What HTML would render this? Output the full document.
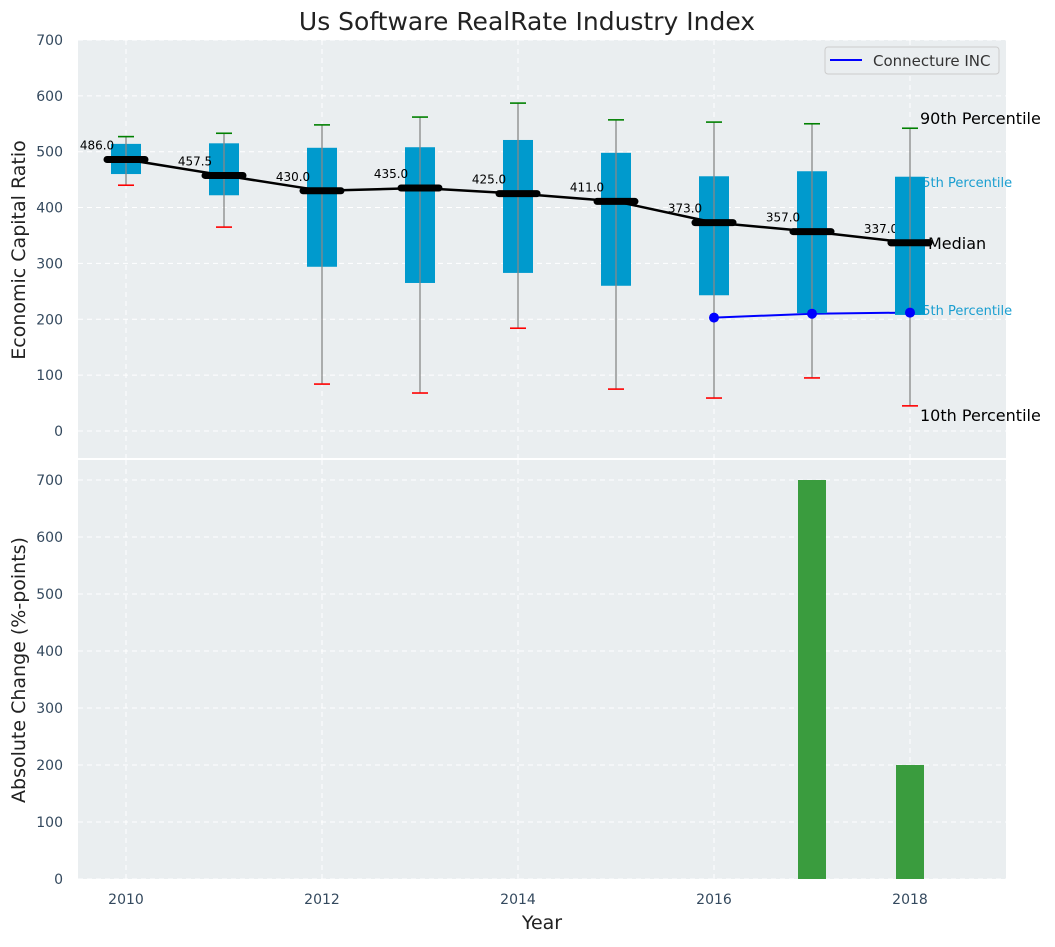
<!DOCTYPE html>
<html><head><meta charset="utf-8">
<style>
body{margin:0;background:#fff;}
svg text{font-family:"DejaVu Sans","Liberation Sans",sans-serif;}
</style></head>
<body>
<svg id="chart" width="1055" height="942" xmlns="http://www.w3.org/2000/svg">
<text x="527" y="30" font-size="25" text-anchor="middle" fill="#222">Us Software RealRate Industry Index</text>
<rect x="78" y="40" width="928" height="418" fill="#eaeef0"/>
<rect x="78" y="460" width="928" height="419" fill="#eaeef0"/>
<g id="gtop"></g><g id="gbot"></g>
<text x="25" y="250" font-size="19" fill="#222" text-anchor="middle" transform="rotate(-90 25 250)">Economic Capital Ratio</text>
<text x="25" y="670" font-size="19" fill="#222" text-anchor="middle" transform="rotate(-90 25 670)">Absolute Change (%-points)</text>
<text x="542" y="929" font-size="19" fill="#222" text-anchor="middle">Year</text>
<g>
<rect x="825" y="47" width="174" height="27" rx="3" fill="#eaeef0" stroke="#ccc"/>
<line x1="830" y1="60" x2="862" y2="60" stroke="blue" stroke-width="2"/>
<text x="873" y="66" font-size="15" fill="#333">Connecture INC</text>
</g>
</svg>
<script>
const years=[2010,2011,2012,2013,2014,2015,2016,2017,2018];
const p90=[527,533,548,562,587,557,553,550,542];
const p75=[514,515,507,508,521,498,456,465,455];
const medians=[486,457.5,430,435,425,411,373,357,337];
const p25=[460,422,294,265,283,260,243,211,208];
const p10=[440,365,84,68,184,75,59,95,45];
const compYears=[2016,2017,2018];
const compVals=[203,210,212];
const barYears=[2017,2018];
const barVals=[700,200];
const topTicks=[0,100,200,300,400,500,600,700];
const botTicks=[0,100,200,300,400,500,600,700];
const xTicks=[2010,2012,2014,2016,2018];

const NS="http://www.w3.org/2000/svg";
const X=v=>126+(v-2010)*98;
const YT=v=>431-v*0.5586;
const YB=v=>879-v*0.57;
function mk(par,tag,at){const e=document.createElementNS(NS,tag);for(const k in at)e.setAttribute(k,at[k]);par.appendChild(e);return e;}
const gTop=document.getElementById('gtop'),gBot=document.getElementById('gbot');
topTicks.forEach(t=>{const l=mk(gTop,'line',{x1:78,x2:1006,y1:YT(t),y2:YT(t),stroke:'#fff','stroke-dasharray':'5,4'});

const tx=mk(gTop,'text',{x:63,y:YT(t)+5,'font-size':14,fill:'#34495e','text-anchor':'end'});tx.textContent=t;
});
botTicks.forEach(t=>{const l=mk(gBot,'line',{x1:78,x2:1006,y1:YB(t),y2:YB(t),stroke:'#fff','stroke-dasharray':'5,4'});

const tx=mk(gBot,'text',{x:63,y:YB(t)+5,'font-size':14,fill:'#34495e','text-anchor':'end'});tx.textContent=t;
});
xTicks.forEach(t=>{[[40,458],[460,879]].forEach(r=>{const l=mk(gTop,'line',{x1:X(t),x2:X(t),y1:r[0],y2:r[1],stroke:'#fff','stroke-dasharray':'5,4'});
});
const tx=mk(gBot,'text',{x:X(t),y:904,'font-size':14,fill:'#34495e','text-anchor':'middle'});tx.textContent=t;
});
const cl=mk(gTop,'polyline',{points:compYears.map((y,i)=>X(y)+','+YT(compVals[i])).join(' '),fill:'none',stroke:'blue','stroke-width':2});

years.forEach((y,i)=>{const x=X(y);
const b=mk(gTop,'rect',{x:x-15,y:YT(p75[i]),width:30,height:YT(p25[i])-YT(p75[i]),fill:'#009acd'});

const w=mk(gTop,'line',{x1:x,x2:x,y1:YT(p10[i]),y2:YT(p90[i]),stroke:'#888','stroke-width':1.3});

const c1=mk(gTop,'line',{x1:x-8,x2:x+8,y1:YT(p90[i]),y2:YT(p90[i]),stroke:'green','stroke-width':1.6});

const c2=mk(gTop,'line',{x1:x-8,x2:x+8,y1:YT(p10[i]),y2:YT(p10[i]),stroke:'red','stroke-width':1.6});
});
const ml=mk(gTop,'polyline',{points:years.map((y,i)=>X(y)+','+YT(medians[i])).join(' '),fill:'none',stroke:'#000','stroke-width':2.5});

years.forEach((y,i)=>{const x=X(y);
const m=mk(gTop,'line',{x1:x-19,x2:x+19,y1:YT(medians[i]),y2:YT(medians[i]),stroke:'#000','stroke-width':7,'stroke-linecap':'round'});

const t=mk(gTop,'text',{x:x-29,y:YT(medians[i])-10,'font-size':12,fill:'#000','text-anchor':'middle'});t.textContent=medians[i].toFixed(1);
});
compYears.forEach((y,i)=>{const d=mk(gTop,'circle',{cx:X(y),cy:YT(compVals[i]),r:5,fill:'blue'});
});
const li=years.length-1,lx=X(years[li]);
[['90th Percentile',lx+10,YT(p90[li])-4,16,'#000'],['75th Percentile',lx+4,YT(p75[li])+10,13,'#1a9ed0'],['Median',lx+18,YT(medians[li])+6,16,'#000'],['25th Percentile',lx+4,YT(p25[li])+0,13,'#1a9ed0'],['10th Percentile',lx+10,YT(p10[li])+15,16,'#000']].forEach(a=>{
const t=mk(gTop,'text',{x:a[1],y:a[2],'font-size':a[3],fill:a[4]});t.textContent=a[0];
});
const lb=mk(gTop,'rect',{x:lx-15,y:YT(p75[li]),width:30,height:YT(p25[li])-YT(p75[li]),fill:'#009acd'});

const lw=mk(gTop,'line',{x1:lx,x2:lx,y1:YT(p75[li]),y2:YT(p25[li]),stroke:'#888','stroke-width':1.3});

const lm=mk(gTop,'line',{x1:lx-19,x2:lx+19,y1:YT(medians[li]),y2:YT(medians[li]),stroke:'#000','stroke-width':7,'stroke-linecap':'round'});

const ld=mk(gTop,'circle',{cx:lx,cy:YT(compVals[compVals.length-1]),r:5,fill:'blue'});

barYears.forEach((y,i)=>{const b=mk(gBot,'rect',{x:X(y)-14,y:YB(barVals[i]),width:28,height:YB(0)-YB(barVals[i]),fill:'#3a9c3e'});
});
</script>
</body></html>
